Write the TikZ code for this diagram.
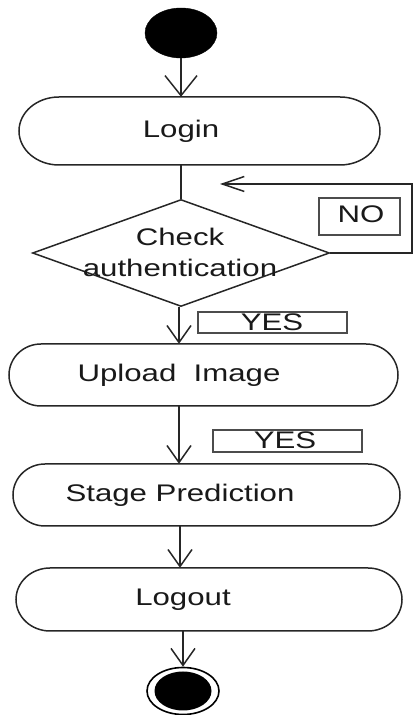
\documentclass[tikz,border=0pt]{standalone}
\usepackage{fontspec}
\setmainfont{Liberation Sans}[FakeStretch=1.3]
\usetikzlibrary{arrows.meta,shapes.geometric}

% stadium outline with elliptical ends: x1, y1 (bottom), x2, y2 (top), end radius
\newcommand{\stadiumpath}[5]{%
  \draw[edge] ({#1+#5},#4) -- ({#3-#5},#4)
    arc[start angle=90, end angle=-90, x radius=#5, y radius={(#4-#2)/2}]
    -- ({#1+#5},#2)
    arc[start angle=270, end angle=90, x radius=#5, y radius={(#4-#2)/2}]
    -- cycle;}

\tikzset{
  edge/.style={line width=1.5pt, draw=black!85},
  flow/.style={edge, -{Straight Barb[length=17pt, width=24pt, line width=1.5pt]}},
  lbl/.style={font=\fontsize{24}{31}\selectfont, text=black!90, inner sep=0pt},
  act/.style={lbl, minimum width=20pt, align=center},
  tagbox/.style={line width=2.2pt, draw=black!70}
}

\begin{document}
\begin{tikzpicture}[x=1pt, y=1pt]
\useasboundingbox (0,0) rectangle (413,715);

% initial and final states
\node[ellipse, fill=black, draw=black, minimum width=72pt, minimum height=50pt, inner sep=0pt] (start) at (181,682) {};
\node[ellipse, draw=black, line width=1.6pt, minimum width=72pt, minimum height=47pt, inner sep=0pt] (stop) at (183,24) {};
\node[ellipse, fill=black, minimum width=57pt, minimum height=39pt, inner sep=0pt] (stopcore) at (183,24) {};

% activities
\stadiumpath{19}{550}{380}{618}{40}
\node[act, minimum height=68pt] (login) at (181,584) {Login};

\stadiumpath{9}{309}{398}{371}{32}
\node[act, minimum height=62pt] (upload) at (179,340) {Upload\ \ Image};

\stadiumpath{13}{189}{400}{251}{32}
\node[act, minimum height=62pt] (predict) at (180,220) {Stage Prediction};

\stadiumpath{16}{84}{402}{147}{34}
\node[act, minimum height=63pt] (logout) at (183,115.5) {Logout};

% decision
\node[diamond, edge, draw, minimum width=297pt, minimum height=107pt, inner sep=0pt] (check) at (181,462) {};
\node[lbl, align=center] (checktext) at (180,462.5) {Check\\authentication};

% guard labels
\draw[tagbox] (319,480) rectangle (400,517);
\node[lbl] (no) at (361,501) {NO};
\draw[tagbox] (198,382) rectangle (347,403);
\node[lbl] (yes1) at (272,393) {YES};
\draw[tagbox] (213,263) rectangle (362,285);
\node[lbl] (yes2) at (285,275) {YES};

% flow
\draw[edge, -{Straight Barb[length=20pt, width=32pt, line width=1.5pt]}] (start.south) -- (login.north);
\draw[edge] (login.south) -- (login.south |- check.north);
\coordinate (retry) at (220,531);
\draw[edge, -{Straight Barb[length=22pt, width=15pt, line width=1.5pt]}] (check.east) -- (412,462) -- (412,531) -- (retry);
\draw[flow] (upload.north |- check.south) -- (upload.north);
\draw[flow] (upload.south) -- (upload.south |- predict.north);
\draw[flow] (predict.south) -- (predict.south |- logout.north);
\draw[flow] (logout.south) -- (stop.north);
\end{tikzpicture}
\end{document}
